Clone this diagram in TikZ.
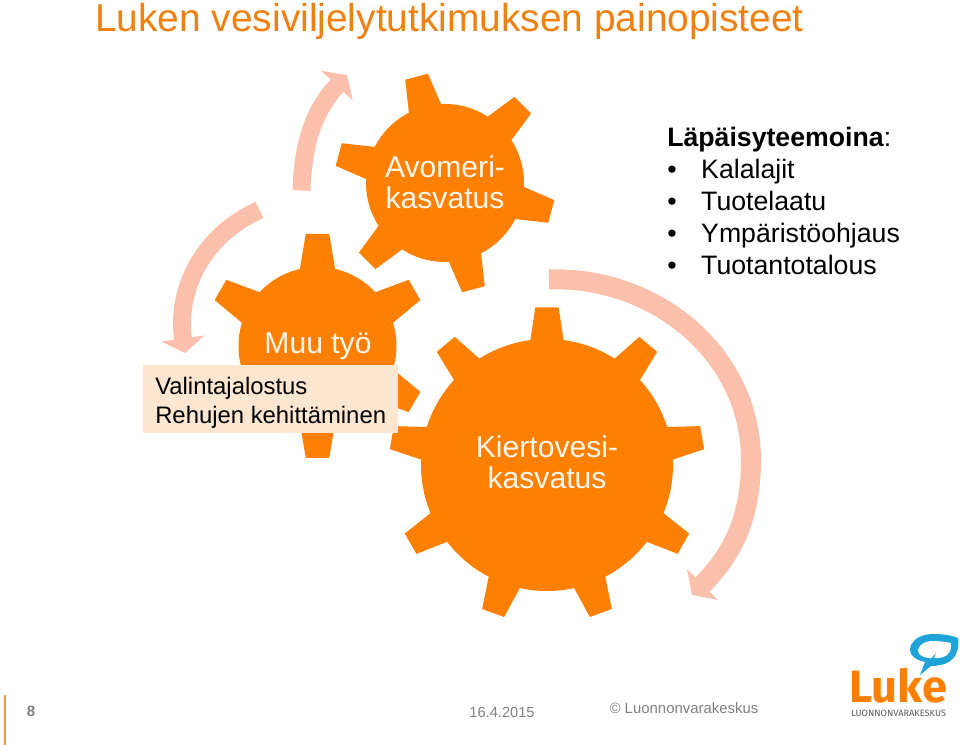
\documentclass[tikz,border=0pt]{standalone}
\usepackage{fontspec}
\setmainfont{Liberation Sans}
\newfontfamily\logofont{Fira Sans}
\usepackage{xcolor}
\usepackage{tikz}
\usetikzlibrary{arrows.meta,positioning}
\definecolor{lukeorange}{HTML}{FE8002}
\definecolor{titleorange}{HTML}{F08010}
\definecolor{arrowpink}{HTML}{FBC0AB}
\definecolor{boxcream}{HTML}{FEE6D1}
\definecolor{lukeblue}{HTML}{1EA4D8}
\definecolor{labelwhite}{HTML}{FFF6EC}
% centre x, centre y, body radius, tip radius, base half width, tooth angles
\newcommand{\gearwheel}[6]{
  \fill[lukeorange] (#1,#2) circle (#3);
  \foreach \a in {#6} {
    \fill[lukeorange,shift={(#1,#2)},rotate=\a] (#3-4,-#5) -- (#4,-11.7) -- (#4,11.7) -- (#3-4,#5) -- cycle;
  }
}
\newcommand{\listline}[1]{\makebox[25.5pt][l]{\textbullet}#1}

\begin{document}
\begin{tikzpicture}[
  x=0.75pt,y=0.75pt,
  gearlabel/.style={text=labelwhite,align=center,font=\fontsize{22.6}{23.4}\selectfont},
  cyclearrow/.style={draw=arrowpink,line width=15pt,-{Triangle[width=32pt,length=11pt]}},
  cyclethin/.style={cyclearrow,line width=13.5pt},
  footgray/.style={text=black!50},
]
\useasboundingbox (0,0) rectangle (960,745);

\node[anchor=base west,inner sep=0pt,text=titleorange,font=\fontsize{29.15}{32}\selectfont] (title) at (95,713) {Luken vesiviljelytutkimuksen painopisteet};

% arrows between the gears
\coordinate (topstart) at (549,465.5);
\coordinate (topmid) at (751,285);
\coordinate (topend) at (692,150);
\coordinate (leftstart) at (259.5,535);
\coordinate (leftend) at (185,392);
\coordinate (upstart) at (301.5,554.5);
\coordinate (upend) at (347,670);
\draw[cyclearrow] (topstart) to[out=2,in=90] (topmid) to[out=-90,in=45] (topend);
\draw[cyclethin] (leftstart) to[out=204,in=98] (leftend);
\draw[cyclethin] (upstart) to[out=88,in=227] (upend);

% gears
\gearwheel{445}{562}{79}{110}{17}{105,45,-15,-75,-135,165}
\gearwheel{317.5}{399}{79}{112}{18}{90,30,-30,-90,-150,150}
\gearwheel{547}{280}{126}{157.5}{17}{90,50,10,-30,-70,-110,-150,170,130}

\node[gearlabel] (avomeri) at (445,563) {Avomeri-\\kasvatus};
\node[gearlabel] (muutyo) at (318,399) {Muu työ};
\node[gearlabel] (kierto) at (547,283) {Kiertovesi-\\kasvatus};

\node[fill=boxcream,anchor=north west,minimum width=191.25pt,minimum height=51pt,inner sep=0pt] (boxbg) at (143,380) {};
\node[anchor=west,inner xsep=0pt,align=left,font=\fontsize{17.9}{22.2}\selectfont] (lisat) at (155,342) {Valintajalostus\\Rehujen kehittäminen};

\node[anchor=west,inner xsep=0pt,align=left,font=\fontsize{20}{24}\selectfont] (teemat) at (667,544) {\textbf{Läpäisyteemoina}:\\
  \listline{Kalalajit}\\
  \listline{Tuotelaatu}\\
  \listline{Ympäristöohjaus}\\
  \listline{Tuotantotalous}};

% footer
\draw[draw=lukeorange!80,line width=1pt] (5,50) coordinate (barup) -- (5,0) coordinate (bardown);
\node[footgray,font=\bfseries\fontsize{11.3}{13}\selectfont] (pagenum) at (31,34) {8};
\node[footgray,font=\fontsize{11}{13}\selectfont] (datum) at (502,33) {16.4.2015};
\node[footgray,font=\fontsize{11.2}{14}\selectfont] (copyr) at (684,37) {© Luonnonvarakeskus};

% logo
\fill[lukeblue] (920,70) -- (925,83) .. controls (915,85) and (910,90) .. (910,95)
  .. controls (910,104) and (920,111) .. (933,111) .. controls (942,111) and (951,110) .. (958,107)
  .. controls (960,95) and (955,82) .. (940,80) .. controls (936,79) and (933,79) .. (931,79) -- cycle;
\fill[white] (918,95) .. controls (918,99) and (924,104) .. (933,104)
  .. controls (940,104) and (946,103) .. (951,102) .. controls (952,93) and (947,87) .. (937,87)
  .. controls (928,86) and (918,88) .. (918,95) -- cycle;
\fill[lukeblue] (926,80) -- (936,92) -- (932,82) -- cycle;
\node[anchor=base west,inner sep=0pt,text=lukeorange,font=\logofont\bfseries\fontsize{34}{34}\selectfont] (lukeword) at (849,42) {Luke};
\node[anchor=base west,inner sep=0pt,text=black!65,font=\logofont\fontsize{6.9}{7}\selectfont] (lukesub) at (851,28) {LUONNONVARAKESKUS};
\end{tikzpicture}
\end{document}
